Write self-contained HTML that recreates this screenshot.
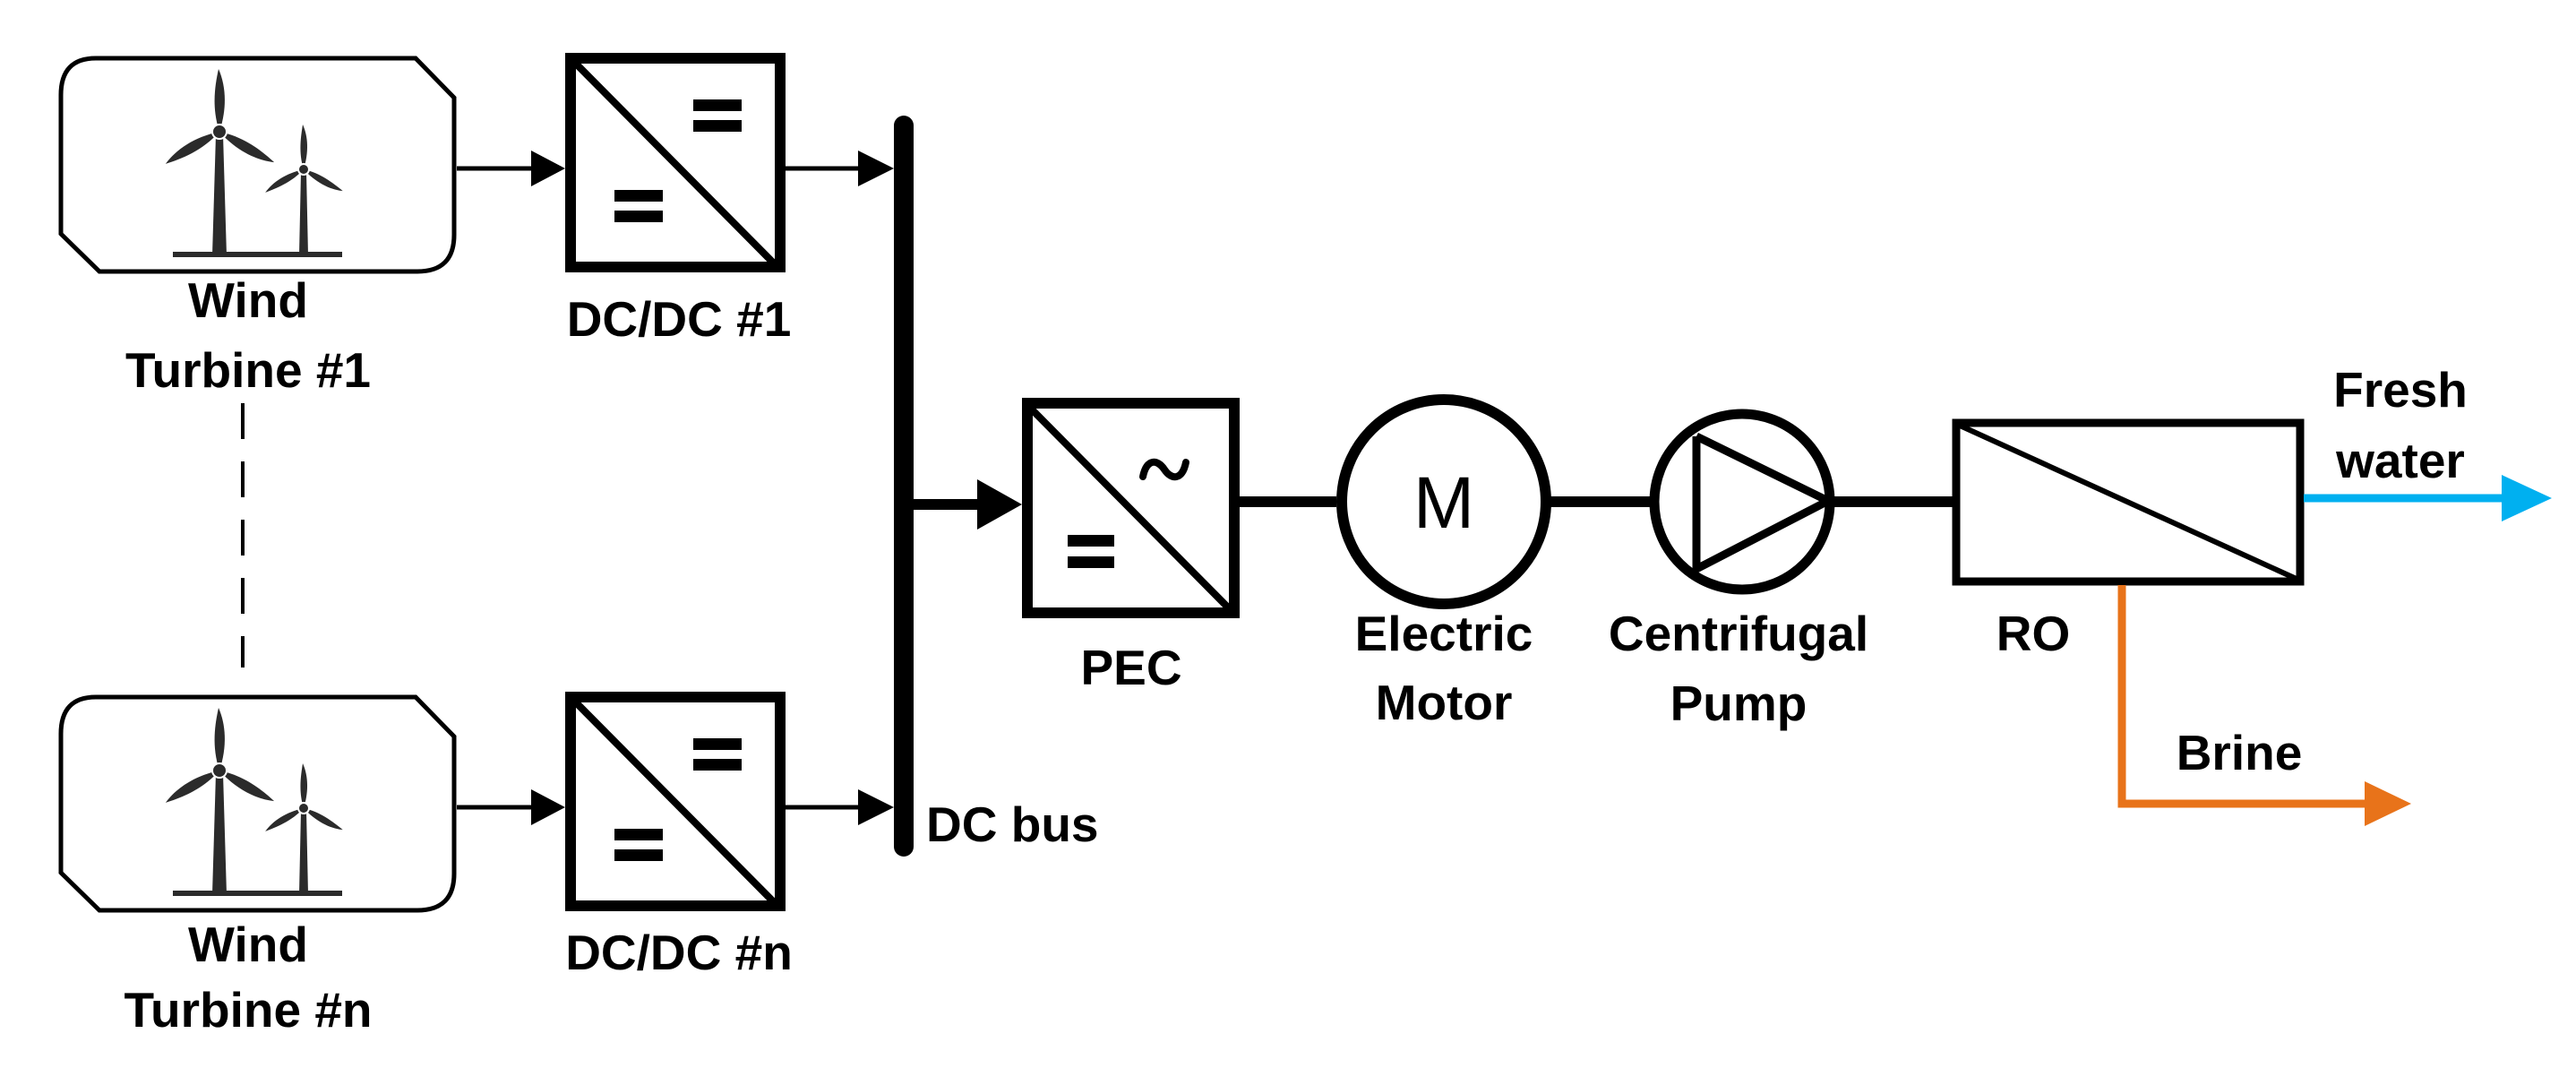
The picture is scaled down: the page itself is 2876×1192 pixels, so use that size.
<!DOCTYPE html>
<html><head><meta charset="utf-8"><style>
html,body{margin:0;padding:0;background:#fff;}
svg{display:block}
text{font-family:"Liberation Sans Narrow","Liberation Sans",sans-serif;font-weight:bold;font-size:55px;fill:#000;text-anchor:middle}
</style></head><body>
<svg width="2876" height="1192" viewBox="0 0 2876 1192" xmlns="http://www.w3.org/2000/svg">
<defs>
<path id="bl" d="M245,147 C236,120 240,95 244,77 C252,95 254,120 245,147Z" fill="#2b2b2b"/>
<path id="bs" d="M339,189 C333,170 336,152 338,139 C344,152 345,170 339,189Z" fill="#2b2b2b"/>
<g id="turb">
  <polygon points="241,150 249,150 253,285 237,285" fill="#2b2b2b"/>
  <use href="#bl"/>
  <use href="#bl" transform="rotate(120 245 147)"/>
  <use href="#bl" transform="rotate(240 245 147)"/>
  <circle cx="245" cy="147" r="8" fill="#2b2b2b" stroke="#fff" stroke-width="2"/>
  <polygon points="336,192 342,192 344,285 334,285" fill="#2b2b2b"/>
  <use href="#bs"/>
  <use href="#bs" transform="rotate(120 339 189)"/>
  <use href="#bs" transform="rotate(240 339 189)"/>
  <circle cx="339" cy="189" r="6" fill="#2b2b2b" stroke="#fff" stroke-width="2"/>
  <rect x="193" y="281" width="189" height="6" fill="#2b2b2b"/>
</g>
<g id="row">
  <path d="M107,65 L464,65 L507,109 L507,262 Q507,303 466,303 L111,303 L68,261 L68,106 Q68,65 107,65Z" fill="none" stroke="#000" stroke-width="5"/>
  <use href="#turb"/>
  <line x1="510" y1="188" x2="596" y2="188" stroke="#000" stroke-width="5"/>
  <polygon points="593,168 631,188 593,208" fill="#000"/>
  <rect x="637" y="65" width="234" height="233" fill="none" stroke="#000" stroke-width="12"/>
  <line x1="640" y1="68" x2="868" y2="298" stroke="#000" stroke-width="8"/>
  <rect x="774" y="111" width="54" height="13" fill="#000"/>
  <rect x="774" y="134" width="54" height="13" fill="#000"/>
  <rect x="686" y="212" width="54" height="13" fill="#000"/>
  <rect x="686" y="235" width="54" height="13" fill="#000"/>
  <line x1="877" y1="188" x2="962" y2="188" stroke="#000" stroke-width="5"/>
  <polygon points="958,168 998,188 958,208" fill="#000"/>
</g>
</defs>
<use href="#row"/>
<use href="#row" transform="translate(0,713)"/>
<text x="277" y="354">Wind</text>
<text x="277" y="432">Turbine #1</text>
<text x="758" y="375">DC/DC #1</text>
<text x="277" y="1073">Wind</text>
<text x="277" y="1146">Turbine #n</text>
<text x="758" y="1082">DC/DC #n</text>
<line x1="271" y1="450" x2="271" y2="745" stroke="#000" stroke-width="4" stroke-dasharray="40,25"/>
<!-- bus -->
<line x1="1009" y1="140" x2="1009" y2="945" stroke="#000" stroke-width="22" stroke-linecap="round"/>
<text x="1034" y="939" style="text-anchor:start">DC bus</text>
<line x1="1009" y1="563" x2="1095" y2="563" stroke="#000" stroke-width="12"/>
<polygon points="1091,535 1141,563 1091,591" fill="#000"/>
<!-- PEC -->
<rect x="1147" y="450" width="231" height="234" fill="none" stroke="#000" stroke-width="12"/>
<line x1="1150" y1="455" x2="1373" y2="680" stroke="#000" stroke-width="8"/>
<path d="M1276,532 C1280,512 1292,512 1300,524 C1308,536 1320,536 1324,516" fill="none" stroke="#000" stroke-width="8" stroke-linecap="round"/>
<rect x="1192" y="597" width="52" height="13" fill="#000"/>
<rect x="1192" y="621" width="52" height="13" fill="#000"/>
<text x="1263" y="764">PEC</text>
<line x1="1384" y1="560" x2="1492" y2="560" stroke="#000" stroke-width="12"/>
<!-- Motor -->
<circle cx="1612" cy="560" r="114" fill="none" stroke="#000" stroke-width="12"/>
<text x="1612" y="589" style="font-weight:normal;font-size:82px;font-family:'Liberation Sans',sans-serif">M</text>
<text x="1612" y="726">Electric</text>
<text x="1612" y="803">Motor</text>
<line x1="1731" y1="560" x2="1842" y2="560" stroke="#000" stroke-width="12"/>
<!-- Pump -->
<circle cx="1945" cy="560" r="98" fill="none" stroke="#000" stroke-width="11"/>
<polyline points="1894,487 1894,635 2041,559 1894,487" fill="none" stroke="#000" stroke-width="9" stroke-linejoin="miter"/>
<text x="1941" y="726">Centrifugal</text>
<text x="1941" y="804">Pump</text>
<line x1="2048" y1="560" x2="2180" y2="560" stroke="#000" stroke-width="12"/>
<!-- RO -->
<rect x="2184" y="472" width="384" height="177" fill="none" stroke="#000" stroke-width="9"/>
<line x1="2186" y1="474" x2="2566" y2="647" stroke="#000" stroke-width="6"/>
<text x="2270" y="726">RO</text>
<!-- Fresh water -->
<line x1="2572" y1="556" x2="2800" y2="556" stroke="#00B0F0" stroke-width="9"/>
<polygon points="2793,530 2849,556 2793,582" fill="#00B0F0"/>
<text x="2680" y="454">Fresh</text>
<text x="2680" y="533">water</text>
<!-- Brine -->
<polyline points="2369,653 2369,897 2645,897" fill="none" stroke="#E8731A" stroke-width="9"/>
<polygon points="2640,872 2692,897 2640,922" fill="#E8731A"/>
<text x="2500" y="859">Brine</text>
</svg>
</body></html>
